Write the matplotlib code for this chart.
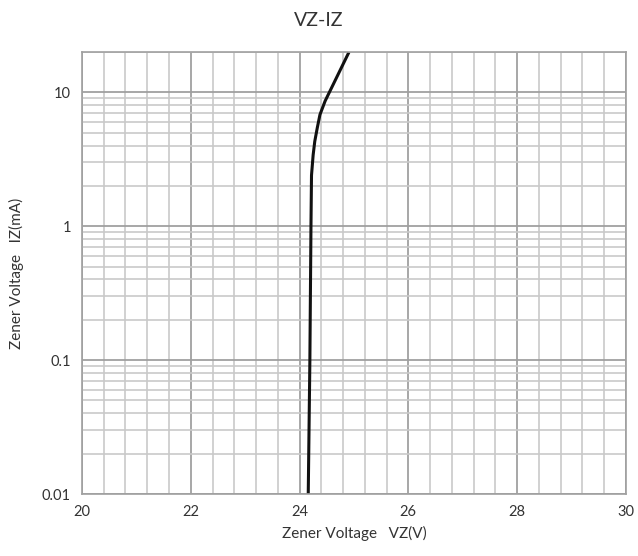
"""VZ-IZ characteristic of a Zener diode, semilog grid."""

import matplotlib

matplotlib.use("Agg")
import matplotlib.pyplot as plt
import numpy as np
from matplotlib.ticker import FixedLocator, LogLocator, NullFormatter

plt.rcParams["font.family"] = ["Lato", "DejaVu Sans"]

VZ = [24.16, 24.19, 24.21, 24.22, 24.25, 24.28, 24.325, 24.375, 24.47, 24.91]
IZ = [0.01, 0.1, 1, 2.4, 3.4, 4.3, 5.4, 6.8, 8.6, 20]

X_TICKS = [20, 22, 24, 26, 28, 30]
Y_TICKS = [0.01, 0.1, 1, 10]
Y_LABELS = ["0.01", "0.1", "1", "10"]

OUT = "out.png"


def main():
    fig = plt.figure(figsize=(6.38, 5.56), dpi=100)
    ax = fig.add_axes([0.1285, 0.1115, 0.8525, 0.795])

    ax.set_yscale("log")
    ax.set_xlim(20, 30)
    ax.set_ylim(0.01, 20)

    ax.set_xticks(X_TICKS)
    ax.xaxis.set_minor_locator(FixedLocator(np.arange(20, 30.01, 0.4)))
    ax.set_yticks(Y_TICKS)
    ax.set_yticklabels(Y_LABELS)
    ax.yaxis.set_minor_locator(LogLocator(base=10, subs=np.arange(2, 10)))
    ax.yaxis.set_minor_formatter(NullFormatter())

    ax.grid(which="minor", color="#c9c9c9", lw=1.2)
    ax.grid(which="major", color="#a0a0a0", lw=1.3)
    ax.set_axisbelow(True)
    ax.tick_params(which="both", length=0, labelsize=10.5, colors="#333333", pad=8)

    for s in ax.spines.values():
        s.set_color("#a0a0a0")
        s.set_linewidth(1.2)

    ax.plot(VZ, IZ, color="#111111", lw=2.2, solid_capstyle="butt")

    fig.text(0.5, 0.963, "VZ-IZ", ha="center", va="center", fontsize=14, color="#333333")
    ax.set_xlabel("Zener Voltage   VZ(V)", fontsize=11, color="#333333", labelpad=5)
    ax.set_ylabel("Zener Voltage   IZ(mA)", fontsize=11, color="#333333", labelpad=13)

    fig.savefig(OUT, dpi=100)


if __name__ == "__main__":
    main()
